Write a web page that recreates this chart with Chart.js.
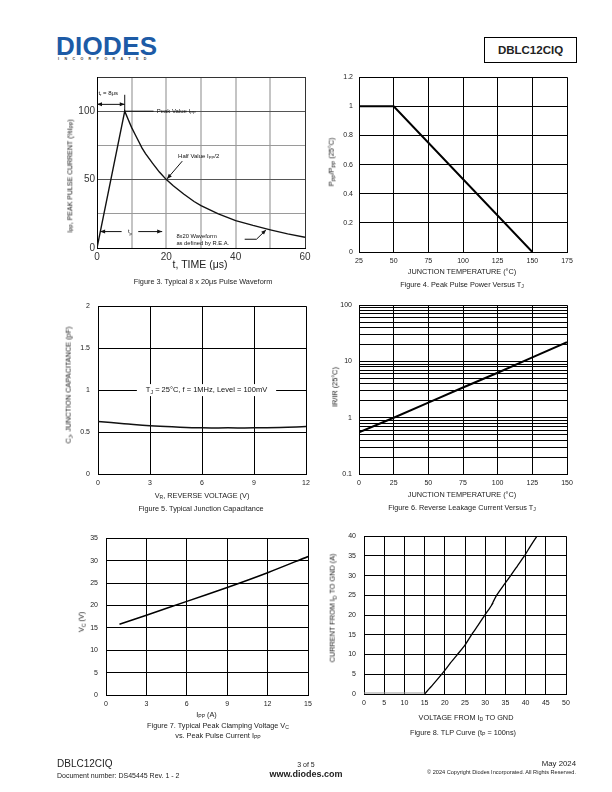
<!DOCTYPE html>
<html>
<head>
<meta charset="utf-8">
<script src="https://cdn.jsdelivr.net/npm/chart.js@4.4.1/dist/chart.umd.min.js"></script>
<style>
body { margin: 0; background: #fff; font-family: "Liberation Sans", Arial, sans-serif; color: #222; }
#page { position: relative; width: 612px; height: 792px; overflow: hidden; background: #fff; }
canvas { position: absolute; }
.t { position: absolute; white-space: nowrap; line-height: 1; }
.sb { font-size: 70%; vertical-align: -0.3em; }
#logo { position: absolute; left: 56px; top: 31px; font: bold 26px "Liberation Sans", Arial, sans-serif; color: #1d5ba6; letter-spacing: 0.3px; }
#inc { position: absolute; left: 58px; top: 57px; font: bold 3.6px "Liberation Sans", Arial, sans-serif; color: #333; letter-spacing: 5.4px; }
#partbox { position: absolute; left: 484px; top: 37px; width: 91px; height: 24px; border: 1px solid #000; font: bold 11.5px "Liberation Sans", Arial, sans-serif; text-align: center; line-height: 24px; }
</style>
</head>
<body>
<div id="page">
  <div id="logo">DIODES</div>
  <div id="inc">INCORPORATED</div>
  <div id="partbox">DBLC12CIQ</div>
</div>
<script>
/* === DATA === */

// Figure 3 - typical 8 x 20us pulse waveform
const fig3Time = [0, 8, 9, 10, 11, 12, 13, 14, 16, 18, 20, 22, 25, 28, 30, 35, 40, 45, 50, 55, 60];
const fig3Current = [0, 100, 94, 88, 83, 78, 73, 69, 62, 55.5, 50, 45.5, 39.5, 34, 31, 25, 20, 16.5, 13.3, 10.3, 7.8];
const fig3XTicks = [0, 10, 20, 30, 40, 50, 60];
const fig3XLabels = [0, 20, 40, 60];
const fig3YTicks = [0, 25, 50, 75, 100, 125];
const fig3YLabels = [0, 50, 100];

// Figure 4 - peak pulse power derating
const fig4Temp = [25, 50, 150];
const fig4Ratio = [1, 1, 0];
const fig4XTicks = [25, 50, 75, 100, 125, 150, 175];
const fig4YTicks = [0, 0.2, 0.4, 0.6, 0.8, 1, 1.2];

// Figure 5 - junction capacitance
const fig5Volt = [0, 1.5, 3, 4.5, 6, 7.5, 9, 10.5, 12];
const fig5Cap = [0.625, 0.6, 0.575, 0.56, 0.55, 0.55, 0.55, 0.555, 0.565];
const fig5XTicks = [0, 3, 6, 9, 12];
const fig5YTicks = [0, 0.5, 1, 1.5, 2];

// Figure 6 - reverse leakage vs Tj (log)
const fig6Temp = [0, 25, 50, 75, 100, 125, 150];
const fig6Ratio = [0.55, 1.0, 1.85, 3.45, 6.3, 11.8, 22];
const fig6XTicks = [0, 25, 50, 75, 100, 125, 150];
const fig6Decades = [0.1, 1, 10, 100];

// Figure 7 - clamping voltage vs Ipp
const fig7Ipp = [1, 3, 6, 9, 12, 15];
const fig7Vc = [15.8, 17.8, 20.9, 24.0, 27.3, 30.9];
const fig7XTicks = [0, 3, 6, 9, 12, 15];
const fig7YTicks = [0, 5, 10, 15, 20, 25, 30, 35];

// Figure 8 - TLP curve
const fig8OffVolt = [0, 15];
const fig8OffCurr = [0.25, 0.25];
const fig8Volt = [15, 17, 19.7, 21.5, 23.1, 25, 26.6, 28.3, 29.9, 31.0, 31.9, 31.6, 32.1, 32.8, 34.5, 36.3, 38.0, 39.7, 41.2, 42.8];
const fig8Curr = [0, 2.3, 5.6, 8, 10, 12.4, 15, 17.5, 20, 21.6, 23, 22.6, 23.6, 25, 27.5, 30, 32.5, 35, 37.5, 40];
const fig8XTicks = [0, 5, 10, 15, 20, 25, 30, 35, 40, 45, 50];
const fig8YTicks = [0, 5, 10, 15, 20, 25, 30, 35, 40];

/* === HELPERS === */
const FONT = '"Liberation Sans", Arial, sans-serif';
const page = document.getElementById('page');
const YW = 44, PT = 8, PR = 14, XH = 22;

function pts(xs, ys) {
    return xs.map((x, i) => ({ x: x, y: ys[i] }));
}

function label(x, y, html, size, opts) {
    opts = opts || {};
    const d = document.createElement('div');
    d.className = 't';
    d.innerHTML = html;
    d.style.left = x + 'px';
    d.style.top = y + 'px';
    d.style.fontSize = size + 'px';
    if (opts.bold) d.style.fontWeight = 'bold';
    let tr = 'translate(-50%,-50%)';
    if (opts.align === 'l') tr = 'translate(0,-50%)';
    if (opts.align === 'r') tr = 'translate(-100%,-50%)';
    if (opts.rot) { tr = 'translate(-50%,-50%) rotate(-90deg)'; d.style.color = '#111'; }
    d.style.transform = tr;
    page.appendChild(d);
}

function fmt(v) {
    return String(+v.toFixed(2));
}

function axis(ticks, pad, size, extra) {
    return Object.assign({
        type: 'linear',
        min: ticks[0],
        max: ticks[ticks.length - 1],
        grid: { color: '#000', lineWidth: 1, drawTicks: false },
        border: { color: '#000', width: 1 },
        ticks: {
            stepSize: ticks[1] - ticks[0], padding: pad, color: '#222',
            font: { family: FONT, size: size }, autoSkip: false, maxRotation: 0,
            callback: v => fmt(v)
        }
    }, extra || {});
}

function makeChart(area, datasets, xOpt, yOpt, plugins) {
    const cv = document.createElement('canvas');
    cv.width = area.r - area.l + YW + PR;
    cv.height = area.b - area.t + PT + XH;
    cv.style.left = (area.l - YW) + 'px';
    cv.style.top = (area.t - PT) + 'px';
    page.appendChild(cv);
    xOpt.afterFit = s => { s.height = XH; };
    yOpt.afterFit = s => { s.width = YW; };
    return new Chart(cv, {
        type: 'line',
        data: { datasets: datasets },
        options: {
            responsive: false,
            animation: false,
            layout: { padding: { left: 0, top: PT, right: PR, bottom: 0 } },
            plugins: { legend: { display: false }, tooltip: { enabled: false } },
            elements: { point: { radius: 0 } },
            scales: { x: xOpt, y: yOpt }
        },
        plugins: plugins || []
    });
}

function seg(ctx, x1, y1, x2, y2) {
    ctx.beginPath();
    ctx.moveTo(x1, y1);
    ctx.lineTo(x2, y2);
    ctx.stroke();
}

// arrow head at (x2,y2) pointing away from (x1,y1)
function head(ctx, x1, y1, x2, y2) {
    const a = Math.atan2(y2 - y1, x2 - x1), L = 5, W = 2;
    ctx.beginPath();
    ctx.moveTo(x2, y2);
    ctx.lineTo(x2 - L * Math.cos(a) + W * Math.sin(a), y2 - L * Math.sin(a) - W * Math.cos(a));
    ctx.lineTo(x2 - L * Math.cos(a) - W * Math.sin(a), y2 - L * Math.sin(a) + W * Math.cos(a));
    ctx.closePath();
    ctx.fill();
}

// text with subscript parts: [[text, isSub], ...]
function subText(ctx, parts, x, y, size, align) {
    let w = 0;
    parts.forEach(p => {
        ctx.font = (p[1] ? size * 0.7 : size) + 'px ' + FONT;
        w += ctx.measureText(p[0]).width;
    });
    let cx = align === 'c' ? x - w / 2 : x;
    ctx.textBaseline = 'middle';
    ctx.textAlign = 'left';
    parts.forEach(p => {
        ctx.font = (p[1] ? size * 0.7 : size) + 'px ' + FONT;
        ctx.fillText(p[0], cx, p[1] ? y + size * 0.3 : y);
        cx += ctx.measureText(p[0]).width;
    });
    return w;
}

/* === FIGURE 3 === */
const fig3Notes = {
    id: 'fig3Notes',
    afterDatasetsDraw(chart) {
        const { ctx, scales: { x, y } } = chart;
        const X = v => x.getPixelForValue(v), Y = v => y.getPixelForValue(v);
        const fs = 6;
        ctx.save();
        ctx.strokeStyle = '#111';
        ctx.fillStyle = '#111';
        ctx.lineWidth = 1;
        // rise time
        seg(ctx, X(0), Y(105), X(8), Y(105));
        head(ctx, X(8), Y(105), X(0), Y(105));
        head(ctx, X(0), Y(105), X(8), Y(105));
        seg(ctx, X(8), Y(112), X(8), Y(99));
        subText(ctx, [['t', 0], ['r', 1], [' = 8\u03bcs', 0]], X(0.4), Y(113), fs, 'l');
        // peak value
        seg(ctx, X(8), Y(100), X(16.3), Y(100));
        subText(ctx, [['Peak Value I', 0], ['PP', 1]], X(17.2), Y(100), fs, 'l');
        // half value
        seg(ctx, X(24.6), Y(63.5), X(20.2), Y(50.5));
        head(ctx, X(24.6), Y(63.5), X(20.2), Y(50.5));
        subText(ctx, [['Half Value I', 0], ['PP', 1], ['/2', 0]], X(23.4), Y(67), fs, 'l');
        // pulse width
        seg(ctx, X(0.9), Y(12), X(7.1), Y(12));
        seg(ctx, X(11.9), Y(12), X(18.8), Y(12));
        head(ctx, X(7.1), Y(12), X(0.9), Y(12));
        head(ctx, X(11.9), Y(12), X(18.8), Y(12));
        subText(ctx, [['t', 0], ['p', 1]], X(9.5), Y(12), fs, 'c');
        // waveform note
        subText(ctx, [['8x20 Waveform', 0]], X(22.9), Y(8.3), 5.8, 'l');
        subText(ctx, [['as defined by R.E.A.', 0]], X(22.9), Y(3.6), 5.8, 'l');
        ctx.beginPath();
        ctx.moveTo(X(42.6), Y(6.4));
        ctx.lineTo(X(46.0), Y(6.4));
        ctx.lineTo(X(48.6), Y(12.8));
        ctx.stroke();
        head(ctx, X(46.0), Y(6.4), X(48.8), Y(13.4));
        ctx.restore();
    }
};

const fig3X = axis(fig3XTicks, 3, 10);
fig3X.grid = {
    drawTicks: false,
    color: c => (c.tick.value === 0 || c.tick.value === 60) ? '#333' : '#c4c4c4',
    lineWidth: c => (c.tick.value === 0 || c.tick.value === 60) ? 1 : 2
};
fig3X.ticks.callback = v => fig3XLabels.includes(v) ? String(v) : '';
fig3X.ticks.color = '#333';
const fig3Y = axis(fig3YTicks, 2, 10);
fig3Y.grid = {
    drawTicks: false,
    color: c => {
        const v = c.tick.value;
        if (v === 0 || v === 125) return '#333';
        return (v === 50 || v === 100) ? '#555' : '#9a9a9a';
    },
    lineWidth: 1
};
fig3Y.ticks.callback = v => fig3YLabels.includes(v) ? String(v) : '';
fig3Y.ticks.color = '#333';
makeChart({ l: 97, r: 305, t: 77, b: 248 }, [{
    data: pts(fig3Time, fig3Current), borderColor: '#111', borderWidth: 1.4, tension: 0
}], fig3X, fig3Y, [fig3Notes]);

label(70.5, 176, 'I<span class="sb">PP</span>, PEAK PULSE CURRENT (%I<span class="sb">PP</span>)', 7, { rot: true });
label(200, 264, 't, TIME (\u03bcs)', 10.5);
label(203, 281.5, 'Figure 3. Typical 8 x 20\u03bcs Pulse Waveform', 7.3);

/* === FIGURE 4 === */
makeChart({ l: 359, r: 567, t: 75, b: 252 }, [{
    data: pts(fig4Temp, fig4Ratio), borderColor: '#000', borderWidth: 2, tension: 0
}], axis(fig4XTicks, 5, 7), axis(fig4YTicks, 6, 7));

label(331.5, 162, 'P<span class="sb">PP</span>/P<span class="sb">PP</span> (25\u00b0C)', 7.3, { rot: true });
label(462, 271.5, 'JUNCTION TEMPERATURE (\u00b0C)', 7.3);
label(462, 284.5, 'Figure 4. Peak Pulse Power Versus T<span class="sb">J</span>', 7.3);

/* === FIGURE 5 === */
const fig5Note = {
    id: 'fig5Note',
    afterDatasetsDraw(chart) {
        const { ctx, scales: { x, y } } = chart;
        const cx = x.getPixelForValue(6.26), cy = y.getPixelForValue(1);
        const parts = [['T', 0], ['J', 1], [' = 25\u00b0C, f = 1MHz, Level = 100mV', 0]];
        ctx.save();
        let w = 0;
        parts.forEach(p => { ctx.font = (p[1] ? 5.2 : 7.5) + 'px ' + FONT; w += ctx.measureText(p[0]).width; });
        ctx.fillStyle = '#fff';
        ctx.fillRect(cx - w / 2 - 9, cy - 6, w + 18, 12);
        ctx.fillStyle = '#111';
        subText(ctx, parts, cx, cy, 7.5, 'c');
        ctx.restore();
    }
};
makeChart({ l: 98, r: 306, t: 302, b: 474 }, [{
    data: pts(fig5Volt, fig5Cap), borderColor: '#111', borderWidth: 1.5, tension: 0.4
}], axis(fig5XTicks, 5, 7), axis(fig5YTicks, 8, 7), [fig5Note]);

label(68.5, 385, 'C<span class="sb">J</span>, JUNCTION CAPACITANCE (pF)', 7.3, { rot: true });
label(202, 495.5, 'V<span class="sb">R</span>, REVERSE VOLTAGE (V)', 7.3);
label(201, 508.5, 'Figure 5. Typical Junction Capacitance', 7.3);

/* === FIGURE 6 === */
const fig6Y = axis([0.1, 100], 7, 7, { type: 'logarithmic' });
fig6Y.ticks.callback = v => fig6Decades.includes(v) ? String(v) : '';
fig6Y.afterBuildTicks = s => {
    const list = [];
    fig6Decades.forEach(d => {
        if (d === 100) { list.push(100); return; }
        for (let k = 1; k < 10; k++) list.push(+(d * k).toFixed(2));
    });
    s.ticks = list.map(v => ({ value: v }));
};
makeChart({ l: 359, r: 567, t: 302, b: 474 }, [{
    data: pts(fig6Temp, fig6Ratio), borderColor: '#000', borderWidth: 2, tension: 0
}], axis(fig6XTicks, 5, 7), fig6Y);

label(335, 387, 'IR/IR (25\u00b0C)', 7.3, { rot: true });
label(462, 494.5, 'JUNCTION TEMPERATURE (\u00b0C)', 7.3);
label(462, 507.5, 'Figure 6. Reverse Leakage Current Versus T<span class="sb">J</span>', 7.3);

/* === FIGURE 7 === */
makeChart({ l: 106, r: 308, t: 534, b: 695 }, [{
    data: pts(fig7Ipp, fig7Vc), borderColor: '#000', borderWidth: 1.5, tension: 0.3
}], axis(fig7XTicks, 5, 7), axis(fig7YTicks, 8, 7));

label(82, 622, 'V<span class="sb">C</span> (V)', 7.3, { rot: true });
label(206.5, 715, 'I<span class="sb">PP</span> (A)', 7.3);
label(218, 725.5, 'Figure 7. Typical Peak Clamping Voltage V<span class="sb">C</span>', 7.3);
label(218, 736, 'vs. Peak Pulse Current I<span class="sb">PP</span>', 7.3);

/* === FIGURE 8 === */
makeChart({ l: 364, r: 566, t: 532, b: 694 }, [{
    data: pts(fig8OffVolt, fig8OffCurr), borderColor: '#9a9a9a', borderWidth: 1.2, tension: 0
}, {
    data: pts(fig8Volt, fig8Curr), borderColor: '#000', borderWidth: 1.3, tension: 0.2
}], axis(fig8XTicks, 5, 7), axis(fig8YTicks, 8, 7));

label(332.5, 608, 'CURRENT FROM I<span class="sb">D</span> TO GND (A)', 7.3, { rot: true });
label(466, 717.5, 'VOLTAGE FROM I<span class="sb">D</span> TO GND', 7.3);
label(463, 732.5, 'Figure 8. TLP Curve (t<span class="sb">P</span> = 100ns)', 7.3);

/* === FOOTER === */
label(57, 764, 'DBLC12CIQ', 10, { align: 'l' });
label(57, 774.5, 'Document number: DS45445 Rev. 1 - 2', 7, { align: 'l' });
label(306, 763.5, '3 of 5', 7);
label(306, 773.5, 'www.diodes.com', 9, { bold: true });
label(576, 764, 'May 2024', 7.8, { align: 'r' });
label(576, 773, '\u00a9 2024 Copyright Diodes Incorporated. All Rights Reserved.', 5.6, { align: 'r' });
</script>
</body>
</html>
